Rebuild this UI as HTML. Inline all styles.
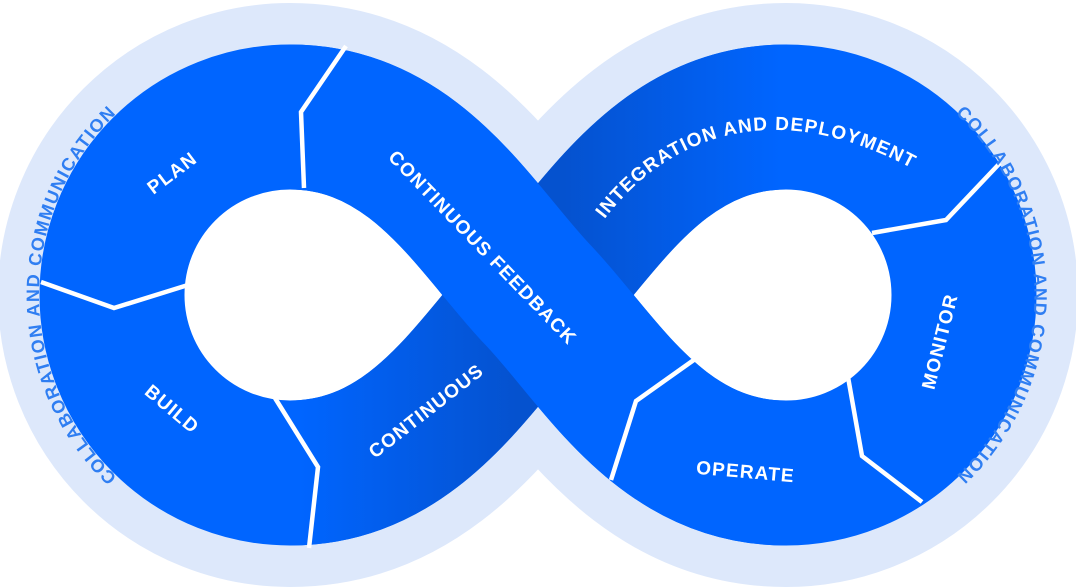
<!DOCTYPE html>
<html><head><meta charset="utf-8"><style>
html,body{margin:0;padding:0;background:#fff;}
svg{display:block;}
text{font-family:"Liberation Sans","DejaVu Sans",sans-serif;font-weight:bold;}
</style></head><body>
<svg width="1076" height="588" viewBox="0 0 1076 588" xmlns="http://www.w3.org/2000/svg">
<defs>
<linearGradient id="g1" gradientUnits="userSpaceOnUse" x1="300" y1="0" x2="780" y2="0">
<stop offset="0" stop-color="#0065ff"/>
<stop offset="0.45" stop-color="#0552cf"/>
<stop offset="0.55" stop-color="#0552cf"/>
<stop offset="1" stop-color="#0065ff"/>
</linearGradient>
<path id="lt" d="M164.5,512.4 A251,251 0 0 1 164.5,77.6"/>
<path id="rt" d="M910,80 A248,248 0 0 1 910,510"/>
<path id="it" d="M598,228 C660,140 770,88 922,174"/>
</defs>
<path d="M538,295 C600,230 660,117 786,117 A178,178 0 0 1 786,473 C660,473 600,360 538,295 C476,230 416,117 290,117 A178,178 0 0 0 290,473 C416,473 476,360 538,295 Z" fill="#fff" stroke="#dde8fb" stroke-width="228"/>
<path d="M538,295 C600,230 660,117 786,117 A178,178 0 0 1 786,473 C660,473 600,360 538,295 C476,230 416,117 290,117 A178,178 0 0 0 290,473 C416,473 476,360 538,295 Z" fill="#fff"/>
<path d="M538,295 C600,230 660,117 786,117 A178,178 0 0 1 786,473 C660,473 600,360 538,295 C476,230 416,117 290,117 A178,178 0 0 0 290,473 C416,473 476,360 538,295 Z" fill="none" stroke="#0065ff" stroke-width="145"/>
<path d="M290,473 C416,473 476,360 538,295 C600,230 660,117 786,117" fill="none" stroke="url(#g1)" stroke-width="145"/>
<path d="M290,117 C416,117 476,230 538,295 C600,360 660,473 786,473" fill="none" stroke="#0065ff" stroke-width="145"/>
<g fill="none" stroke="#fff" stroke-width="4.5" stroke-linejoin="miter">
<polyline points="346,46 301,112 304,188"/>
<polyline points="41,282 114,308 188,285"/>
<polyline points="275,398 318,467 309,548"/>
<polyline points="1000,163 946,220 872,233"/>
<polyline points="848,377 862,456 922,502"/>
<polyline points="698,357 636,401 611,480"/>
</g>
<g fill="#fff" font-size="19" letter-spacing="1.2">
<text transform="translate(176,178) rotate(-37)" text-anchor="middle">PLAN</text>
<text transform="translate(168,414) rotate(40)" text-anchor="middle">BUILD</text>
<text transform="translate(430,416) rotate(-38)" text-anchor="middle">CONTINUOUS</text>
<text transform="translate(478,252) rotate(46)" text-anchor="middle">CONTINUOUS FEEDBACK</text>
<text transform="translate(745,478) rotate(5)" text-anchor="middle">OPERATE</text>
<text transform="translate(946,343) rotate(-76)" text-anchor="middle">MONITOR</text>
<text><textPath href="#it" startOffset="50%" text-anchor="middle">INTEGRATION AND DEPLOYMENT</textPath></text>
</g>
<g fill="#2f7ef2" font-size="18" letter-spacing="1.5">
<text><textPath href="#lt" startOffset="50%" text-anchor="middle">COLLABORATION AND COMMUNICATION</textPath></text>
<text><textPath href="#rt" startOffset="50%" text-anchor="middle">COLLABORATION AND COMMUNICATION</textPath></text>
</g>
</svg>
</body></html>
